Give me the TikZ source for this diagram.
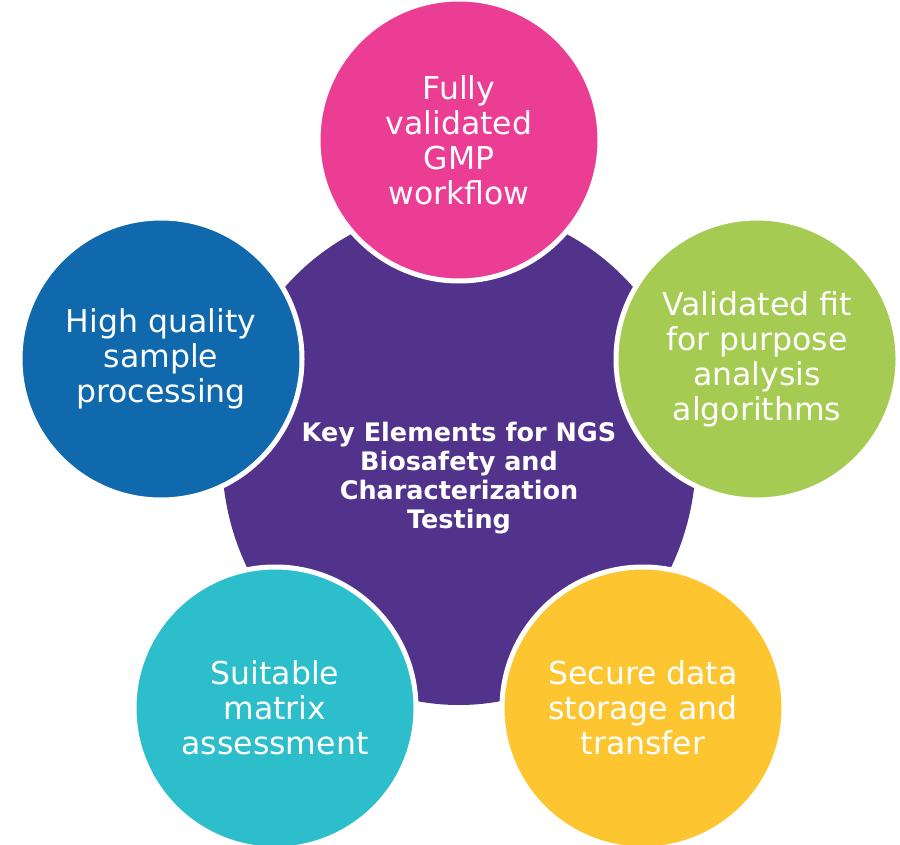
\documentclass[tikz,border=0pt]{standalone}
\usepackage{fontspec}
\setmainfont{DejaVu Sans}
\usetikzlibrary{shapes.geometric}

\definecolor{hubpurple}{RGB}{81,51,140}
\definecolor{gmppink}{RGB}{236,61,149}
\definecolor{algogreen}{RGB}{165,203,82}
\definecolor{storeyellow}{RGB}{253,197,48}
\definecolor{matrixteal}{RGB}{45,190,204}
\definecolor{sampleblue}{RGB}{16,105,173}

\begin{document}
\begin{tikzpicture}[x=1pt,y=-1pt]
	\tikzstyle{hub} = [ellipse, fill=hubpurple, minimum width=474pt, minimum height=498pt, inner sep=0pt]
	\tikzstyle{hubtext} = [text=white, align=center, font=\bfseries\fontsize{25.5}{29}\selectfont]
	\tikzstyle{element} = [circle, draw=white, line width=5pt, minimum size=282pt, inner sep=0pt, text=white, align=center, font=\fontsize{31.5}{35}\selectfont]

	\useasboundingbox (0,0) rectangle (900,845);

	% the purple centre and its title
	\node[hub](hub) at (459,456) {};
	\node[hubtext](title) at (459,478) {Key Elements for NGS\\Biosafety and\\Characterization\\Testing};

	% five elements round the centre
	\node[element, fill=gmppink](gmp) at (459,140) {Fully\\validated\\GMP\\workflow};
	\node[element, fill=algogreen](algo) at (757,359) {Validated fit\\for purpose\\analysis\\algorithms};
	\node[element, fill=storeyellow](store) at (643,708) {Secure data\\storage and\\transfer};
	\node[element, fill=matrixteal](matrix) at (275,708) {Suitable\\matrix\\assessment};
	\node[element, fill=sampleblue](sample) at (161,359) {High quality\\sample\\processing};
\end{tikzpicture}
\end{document}
